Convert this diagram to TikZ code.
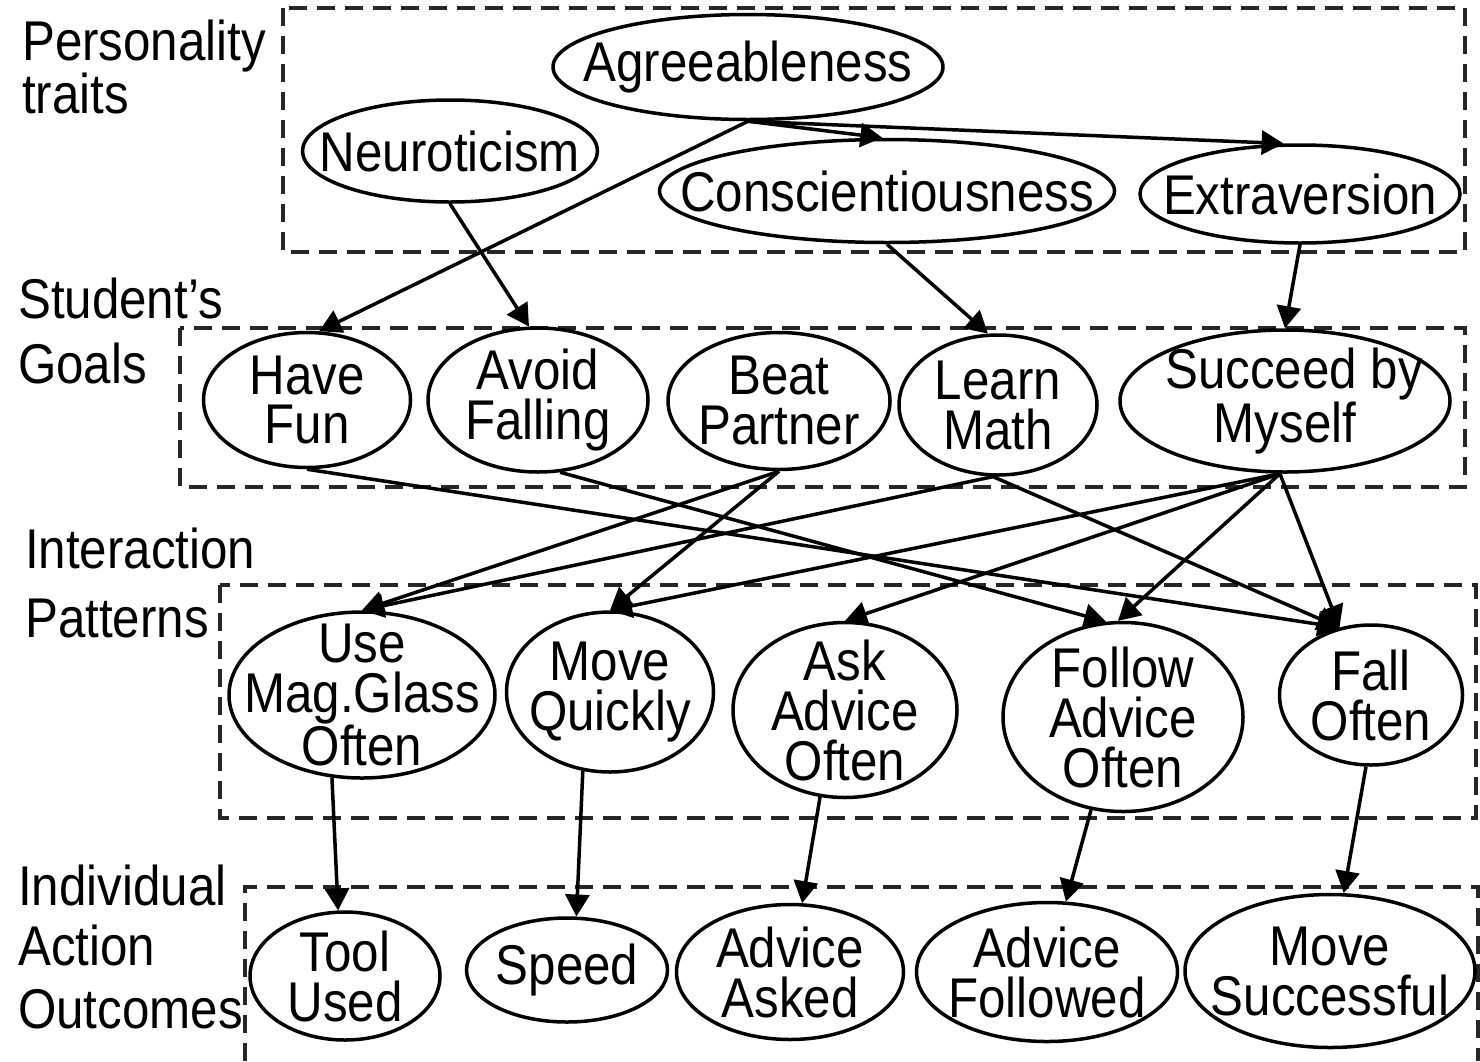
\documentclass[tikz,border=0pt]{standalone}
\usepackage{fontspec}
\setmainfont[FakeStretch=0.88]{Liberation Sans}
\usetikzlibrary{shapes.geometric,arrows.meta}
\begin{document}
\begin{tikzpicture}[x=1pt,y=-1pt,
  every node/.style={font=\fontsize{56}{50}\selectfont},
  el/.style={draw, ellipse, line width=3.5pt, inner sep=0pt},
  txt/.style={align=center, inner sep=0pt},
  grp/.style={draw=black!85, line width=3.5pt, dash pattern=on 18pt off 10pt},
  lab/.style={anchor=base west, inner sep=0pt},
  arr/.style={line width=3.5pt, -{Triangle[length=22pt,width=24pt]}}]
\useasboundingbox (0,0) rectangle (1480,1061);

% group boxes
\draw[grp] (283,8) rectangle (1465,252);
\draw[grp] (180,328) rectangle (1465,487);
\draw[grp] (220,585) rectangle (1476,818);
\draw[grp] (245,1061) -- (245,887) -- (1478,887) -- (1478,1061);

% left labels
\node[lab] (l1a) at (22,60) {Personality};
\node[lab] (l1b) at (22,113) {traits};
\node[lab] (l2a) at (18,318) {Student's};
\node[lab] (l2b) at (18,383) {Goals};
\node[lab] (l3a) at (25,568) {Interaction};
\node[lab] (l3b) at (25,637) {Patterns};
\node[lab] (l4a) at (18,905) {Individual};
\node[lab] (l4b) at (18,965) {Action};
\node[lab] (l4c) at (18,1028) {Outcomes};

% personality traits
\node[el, minimum width=390pt, minimum height=105pt, label={[txt]center:Agreeableness}] (agree) at (748,67) {};
\node[el, minimum width=295pt, minimum height=102pt, label={[txt]center:Neuroticism}] (neuro) at (450,151) {};
\node[el, minimum width=455pt, minimum height=103pt, label={[txt]center:Conscientiousness}] (consc) at (887,191) {};
\node[el, minimum width=320pt, minimum height=98pt, label={[txt]center:Extraversion}] (extra) at (1300,194) {};

% goals
\node[el, minimum width=207pt, minimum height=135pt, label={[txt]center:{Have\\Fun}}] (fun) at (307,400) {};
\node[el, minimum width=220pt, minimum height=144pt, label={[txt]center:{Avoid\\Falling}}] (avoid) at (538,400) {};
\node[el, minimum width=222pt, minimum height=137pt, label={[txt]center:{Beat\\Partner}}] (beat) at (779,401) {};
\node[el, minimum width=198pt, minimum height=140pt, label={[txt]center:{Learn\\Math}}] (learn) at (998,405) {};
\node[el, minimum width=330pt, minimum height=142pt, label={[txt]center:{\hspace*{18pt}Succeed by\\Myself}}] (succ) at (1285,401) {};

% interaction patterns
\node[el, minimum width=266pt, minimum height=166pt, label={[txt]center:{Use\\Mag.Glass\\Often}}] (mag) at (362,695) {};
\node[el, minimum width=207pt, minimum height=160pt, label={[txt]center:{Move\\Quickly}}] (quick) at (610,692) {};
\node[el, minimum width=224pt, minimum height=175pt, label={[txt]center:{Ask\\Advice\\Often}}] (ask) at (845,710) {};
\node[el, minimum width=240pt, minimum height=189pt, label={[txt]center:{Follow\\Advice\\Often}}] (follow) at (1123,717) {};
\node[el, minimum width=183pt, minimum height=140pt, label={[txt]center:{Fall\\Often}}] (fall) at (1371,695) {};

% outcomes
\node[el, minimum width=190pt, minimum height=128pt, label={[txt]center:{Tool\\Used}}] (tool) at (345,976) {};
\node[el, minimum width=201pt, minimum height=104pt, label={[txt]center:Speed}] (speed) at (567,970) {};
\node[el, minimum width=227pt, minimum height=135pt, label={[txt]center:{Advice\\Asked}}] (asked) at (790,972) {};
\node[el, minimum width=261pt, minimum height=139pt, label={[txt]center:{Advice\\Followed}}] (followed) at (1047,972) {};
\node[el, minimum width=290pt, minimum height=153pt, label={[txt]center:{Move\\Successful}}] (msucc) at (1330,971) {};

% traits -> goals
\draw[arr] (agree.south) -- (fun.80);
\draw[arr] (agree.south) -- (consc.95);
\draw[arr] (agree.south) -- (extra.108);
\draw[arr] (neuro.south) -- (avoid.97);
\draw[arr] (consc.south) -- (learn.98);
\draw[arr] (extra.south) -- (succ.north);

% goals -> interaction patterns
\draw[arr] (fun.south) -- (fall.115);
\draw[arr] (avoid.287) -- (follow.100);
\draw[arr] (beat.south) -- (mag.north);
\draw[arr] (beat.south) -- (quick.north);
\draw[arr] (learn.266) -- (mag.north);
\draw[arr] (learn.266) -- (fall.115);
\draw[arr] (succ.266) -- (quick.north);
\draw[arr] (succ.266) -- (ask.north);
\draw[arr] (succ.266) -- (follow.93);
\draw[arr] (succ.266) -- (fall.115);

% interaction patterns -> outcomes
\draw[arr] (mag.250) -- (tool.96);
\draw[arr] (quick.251) -- (speed.80);
\draw[arr] (ask.254) -- (asked.80);
\draw[arr] (follow.251) -- (followed.75);
\draw[arr] (fall.266) -- (msucc.80);
\end{tikzpicture}
\end{document}
